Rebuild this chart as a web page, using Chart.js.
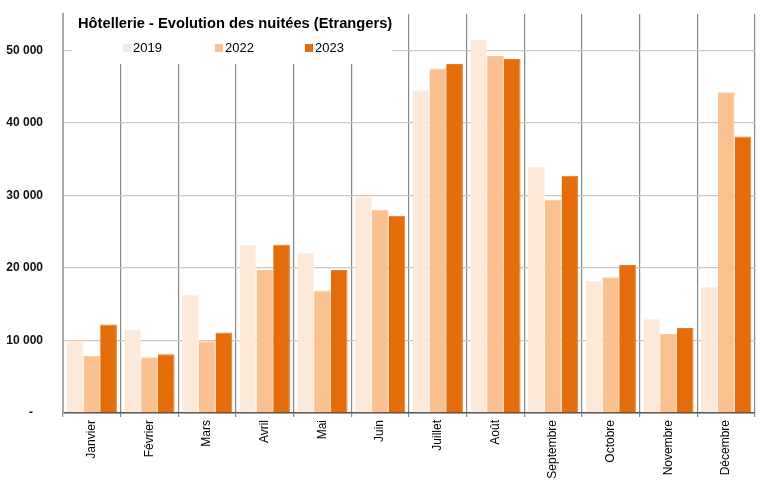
<!DOCTYPE html>
<html>
<head>
<meta charset="utf-8">
<script src="https://cdn.jsdelivr.net/npm/chart.js@4/dist/chart.umd.min.js"></script>
<style>
  html, body { margin: 0; padding: 0; background: #fff; }
  #wrap { width: 770px; height: 486px; }
</style>
</head>
<body>
<div id="wrap"><canvas id="chart" width="770" height="486"></canvas></div>
<script>
// Hôtellerie - nuitées étrangers, par mois
const months = ['Janvier', 'Février', 'Mars', 'Avril', 'Mai', 'Juin', 'Juillet', 'Août', 'Septembre', 'Octobre', 'Novembre', 'Décembre'];
const years = ['2019', '2022', '2023'];
const values2019 = [10000, 11500, 16300, 23200, 22100, 29800, 44500, 51500, 33900, 18200, 13000, 17400];
const values2022 = [7900, 7700, 9900, 19700, 16900, 28000, 47500, 49200, 29400, 18700, 10900, 44200];
const values2023 = [12200, 8100, 11100, 23200, 19700, 27200, 48100, 48800, 32700, 20400, 11700, 38100];
const yTicks = [0, 10000, 20000, 30000, 40000, 50000];
const chartTitle = 'Hôtellerie - Evolution des nuitées (Etrangers)';

const colors = ['#FDE9D9', '#FAC090', '#E46C0A'];
const edges = ['#FEEEE2', '#FBC89C', '#E97B22'];

function fmt(v) {
  if (v === 0) return '-   ';
  return String(v).replace(/\B(?=(\d{3})+(?!\d))/g, ' ');
}

// title + legend drawn in a white box inside the plot area
const titleBox = {
  id: 'titleBox',
  beforeDatasetsDraw(chart) {
    const ctx = chart.ctx;
    const a = chart.chartArea;
    ctx.save();
    ctx.fillStyle = '#fff';
    ctx.fillRect(a.left + 9, a.top, 320, 50);
    ctx.fillStyle = '#000';
    ctx.font = 'bold 14.7px "Liberation Sans", Arial, sans-serif';
    ctx.textBaseline = 'middle';
    ctx.textAlign = 'left';
    ctx.fillText(chartTitle, a.left + 15, a.top + 10);
    ctx.font = '13px "Liberation Sans", Arial, sans-serif';
    const xs = [123, 215, 305];
    chart.data.datasets.forEach((ds, i) => {
      ctx.fillStyle = ds.backgroundColor;
      ctx.fillRect(xs[i], a.top + 30, 8, 8);
      ctx.fillStyle = '#000';
      ctx.fillText(ds.label, xs[i] + 10, a.top + 34);
    });
    ctx.restore();
  }
};

new Chart(document.getElementById('chart'), {
  type: 'bar',
  data: {
    labels: months,
    datasets: [values2019, values2022, values2023].map((vals, i) => ({
      label: years[i],
      data: vals,
      backgroundColor: colors[i],
      borderColor: edges[i],
      borderWidth: { top: 1, left: 0, right: 1, bottom: 0 },
      categoryPercentage: 0.87,
      barPercentage: 1.0
    }))
  },
  options: {
    responsive: false,
    animation: false,
    layout: { padding: { left: 0, top: 14, right: 15, bottom: 0 } },
    plugins: {
      legend: { display: false },
      title: { display: false },
      tooltip: { enabled: false }
    },
    scales: {
      x: {
        grid: {
          offset: true,
          color: '#888',
          lineWidth: 1.2,
          drawTicks: true,
          tickLength: 4
        },
        border: { color: '#555', width: 1.5 },
        ticks: {
          maxRotation: 90,
          minRotation: 90,
          padding: 3,
          color: '#000',
          font: { family: '"Liberation Sans", Arial, sans-serif', size: 12 }
        },
        afterFit(scale) { scale.height = 73; }
      },
      y: {
        min: 0,
        max: 55000,
        afterBuildTicks(scale) {
          scale.ticks = yTicks.map(v => ({ value: v }));
        },
        grid: {
          color: '#c8c8c8',
          lineWidth: 1.3,
          drawTicks: false
        },
        border: { color: '#aaa', width: 2 },
        ticks: {
          padding: 20,
          color: '#111',
          font: { family: '"Liberation Sans", Arial, sans-serif', size: 12, weight: 'bold' },
          callback: v => fmt(v)
        },
        afterFit(scale) {
          scale.width = 63;
          scale.paddingTop = 0;
          scale.paddingBottom = 0;
        }
      }
    }
  },
  plugins: [titleBox]
});
</script>
</body>
</html>
